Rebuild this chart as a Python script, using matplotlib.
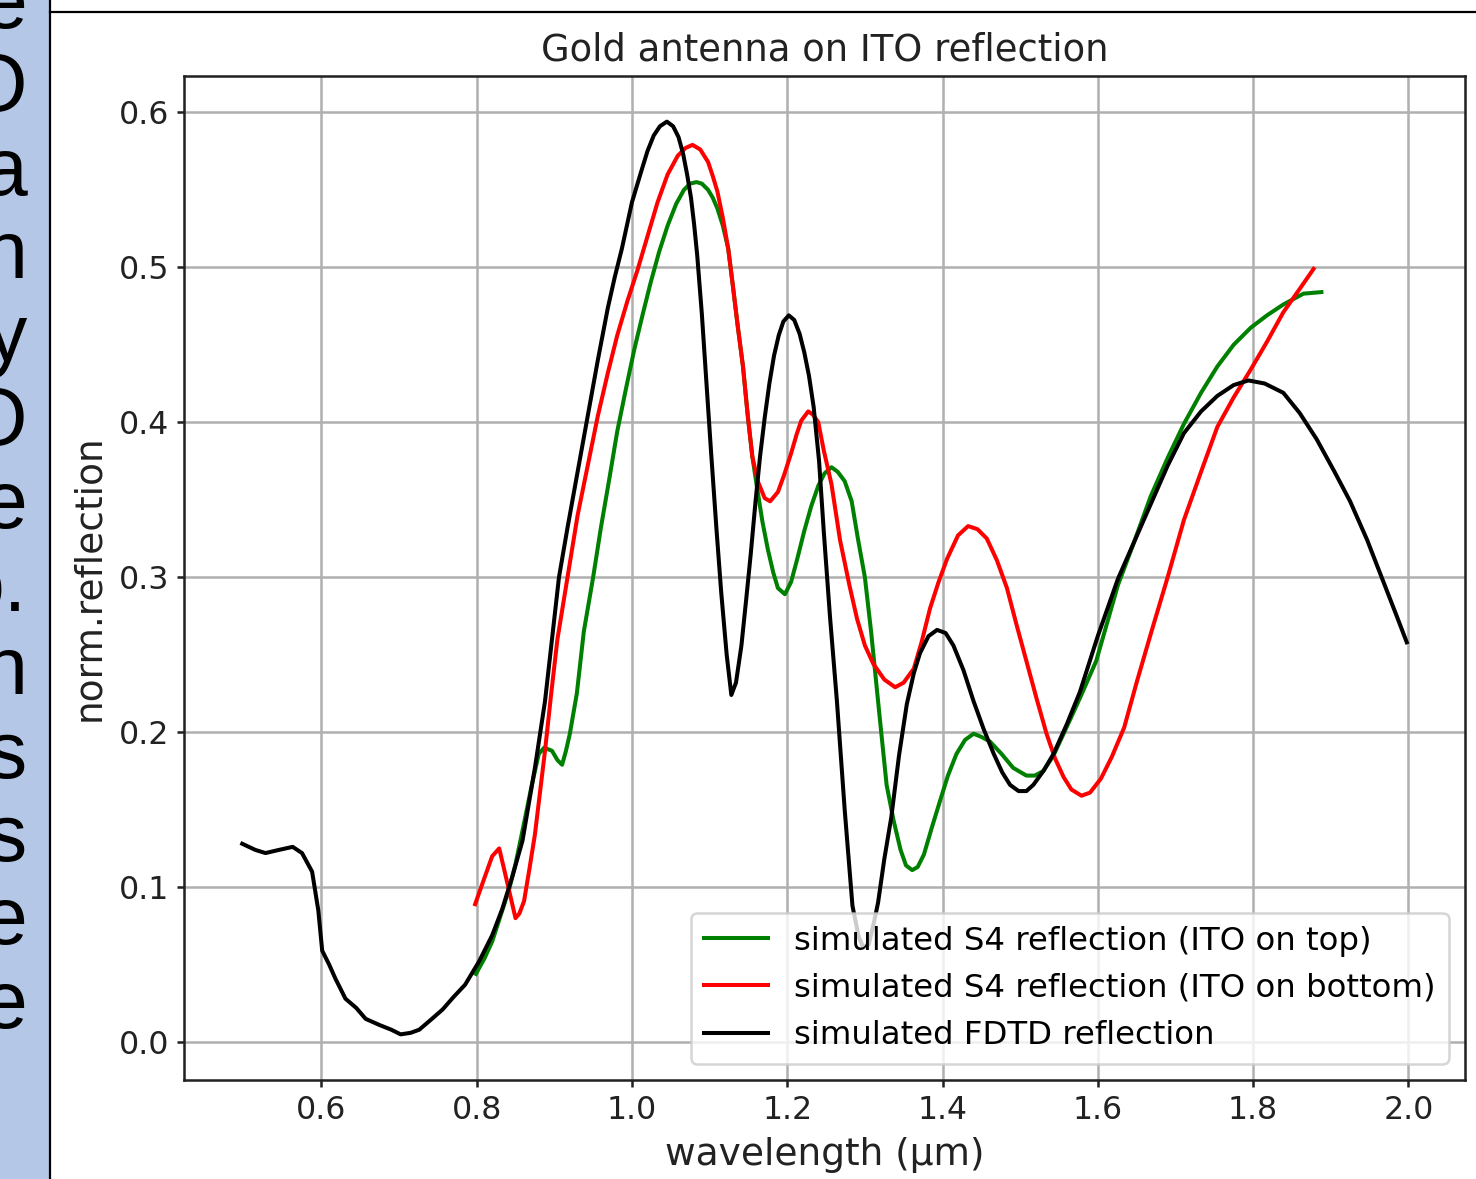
import matplotlib
matplotlib.use("Agg")
import matplotlib.pyplot as plt
from matplotlib.lines import Line2D
from matplotlib.patches import Rectangle

# FDTD reflection (black)
fdtd_wl = [0.498, 0.515, 0.528, 0.545, 0.563, 0.575, 0.588, 0.596, 0.601, 0.610,
           0.618, 0.631, 0.645, 0.657, 0.675, 0.690, 0.702, 0.715, 0.726, 0.740,
           0.756, 0.770, 0.785, 0.803, 0.820, 0.833, 0.846, 0.859, 0.875, 0.888,
           0.897, 0.906, 0.917, 0.930, 0.943, 0.956, 0.969, 0.978, 0.987, 1.000,
           1.012, 1.020, 1.028, 1.036, 1.045, 1.053, 1.060, 1.066, 1.071, 1.076,
           1.080, 1.084, 1.090, 1.096, 1.102, 1.109, 1.115, 1.122, 1.128, 1.134,
           1.141, 1.147, 1.153, 1.159, 1.165, 1.171, 1.177, 1.183, 1.189, 1.195,
           1.202, 1.209, 1.216, 1.222, 1.228, 1.234, 1.241, 1.247, 1.255, 1.264,
           1.274, 1.284, 1.292, 1.298, 1.305, 1.312, 1.317, 1.325, 1.334, 1.344,
           1.354, 1.363, 1.371, 1.382, 1.393, 1.404, 1.414, 1.427, 1.440, 1.453,
           1.466, 1.477, 1.487, 1.498, 1.508, 1.517, 1.530, 1.543, 1.560, 1.577,
           1.600, 1.626, 1.647, 1.668, 1.690, 1.711, 1.733, 1.754, 1.775, 1.794,
           1.815, 1.839, 1.860, 1.882, 1.905, 1.925, 1.947, 1.968, 1.985, 1.998]
fdtd_r = [0.128, 0.124, 0.122, 0.124, 0.126, 0.122, 0.110, 0.085, 0.059, 0.050,
          0.041, 0.028, 0.022, 0.015, 0.011, 0.008, 0.005, 0.006, 0.008, 0.014,
          0.021, 0.029, 0.037, 0.052, 0.069, 0.086, 0.107, 0.130, 0.177, 0.220,
          0.260, 0.300, 0.332, 0.368, 0.404, 0.440, 0.474, 0.494, 0.512, 0.542,
          0.562, 0.575, 0.585, 0.591, 0.594, 0.591, 0.584, 0.573, 0.560, 0.545,
          0.528, 0.508, 0.470, 0.425, 0.380, 0.330, 0.290, 0.250, 0.224, 0.232,
          0.256, 0.285, 0.315, 0.348, 0.378, 0.403, 0.425, 0.443, 0.456, 0.465,
          0.469, 0.466, 0.457, 0.445, 0.430, 0.410, 0.375, 0.330, 0.275, 0.220,
          0.150, 0.088, 0.068, 0.061, 0.063, 0.078, 0.090, 0.118, 0.145, 0.185,
          0.218, 0.238, 0.251, 0.262, 0.266, 0.264, 0.256, 0.240, 0.220, 0.202,
          0.186, 0.174, 0.166, 0.162, 0.162, 0.166, 0.175, 0.186, 0.205, 0.226,
          0.262, 0.299, 0.323, 0.347, 0.372, 0.393, 0.407, 0.417, 0.424, 0.427,
          0.425, 0.419, 0.406, 0.389, 0.368, 0.349, 0.324, 0.297, 0.275, 0.258]

# S4, ITO on top (green)
top_wl = [0.799, 0.810, 0.820, 0.831, 0.842, 0.850, 0.858, 0.871, 0.880, 0.887,
          0.897, 0.904, 0.910, 0.915, 0.920, 0.929, 0.938, 0.950, 0.960, 0.971,
          0.981, 0.992, 1.003, 1.014, 1.024, 1.035, 1.046, 1.057, 1.067, 1.075,
          1.083, 1.090, 1.098, 1.104, 1.110, 1.117, 1.124, 1.130, 1.136, 1.143,
          1.149, 1.155, 1.162, 1.168, 1.175, 1.182, 1.188, 1.197, 1.205, 1.213,
          1.222, 1.231, 1.240, 1.248, 1.257, 1.265, 1.274, 1.283, 1.291, 1.300,
          1.308, 1.318, 1.328, 1.337, 1.346, 1.353, 1.361, 1.368, 1.376, 1.386,
          1.397, 1.407, 1.418, 1.429, 1.440, 1.450, 1.461, 1.476, 1.491, 1.508,
          1.519, 1.530, 1.543, 1.556, 1.577, 1.598, 1.626, 1.647, 1.668, 1.690,
          1.711, 1.733, 1.754, 1.775, 1.797, 1.818, 1.839, 1.865, 1.888]
top_r = [0.044, 0.054, 0.065, 0.082, 0.099, 0.115, 0.134, 0.166, 0.186, 0.190,
         0.188, 0.182, 0.179, 0.188, 0.199, 0.225, 0.265, 0.300, 0.332, 0.364,
         0.394, 0.421, 0.447, 0.470, 0.490, 0.510, 0.527, 0.541, 0.550, 0.554,
         0.555, 0.554, 0.550, 0.545, 0.538, 0.527, 0.512, 0.488, 0.463, 0.436,
         0.405, 0.378, 0.355, 0.336, 0.318, 0.303, 0.293, 0.289, 0.297, 0.312,
         0.330, 0.346, 0.359, 0.367, 0.371, 0.368, 0.362, 0.349, 0.325, 0.300,
         0.265, 0.215, 0.166, 0.143, 0.124, 0.114, 0.111, 0.113, 0.121, 0.138,
         0.156, 0.172, 0.186, 0.195, 0.199, 0.197, 0.194, 0.186, 0.177, 0.172,
         0.172, 0.175, 0.185, 0.199, 0.222, 0.246, 0.295, 0.323, 0.352, 0.377,
         0.399, 0.419, 0.436, 0.450, 0.461, 0.469, 0.476, 0.483, 0.484]

# S4, ITO on bottom (red)
bot_wl = [0.798, 0.810, 0.820, 0.829, 0.837, 0.850, 0.855, 0.861, 0.868, 0.875,
          0.888, 0.896, 0.904, 0.917, 0.930, 0.943, 0.956, 0.969, 0.981, 0.994,
          1.007, 1.020, 1.033, 1.046, 1.059, 1.069, 1.078, 1.088, 1.098, 1.104,
          1.110, 1.117, 1.124, 1.130, 1.136, 1.143, 1.149, 1.155, 1.162, 1.171,
          1.178, 1.188, 1.196, 1.205, 1.212, 1.218, 1.227, 1.233, 1.240, 1.247,
          1.257, 1.268, 1.280, 1.290, 1.300, 1.311, 1.325, 1.339, 1.350, 1.363,
          1.373, 1.384, 1.395, 1.406, 1.420, 1.433, 1.445, 1.457, 1.470, 1.483,
          1.495, 1.508, 1.521, 1.534, 1.545, 1.556, 1.566, 1.579, 1.590, 1.604,
          1.618, 1.634, 1.650, 1.668, 1.690, 1.711, 1.733, 1.754, 1.775, 1.797,
          1.818, 1.839, 1.860, 1.878]
bot_r = [0.089, 0.106, 0.120, 0.125, 0.108, 0.080, 0.083, 0.091, 0.112, 0.134,
         0.188, 0.225, 0.260, 0.300, 0.340, 0.372, 0.404, 0.432, 0.456, 0.478,
         0.498, 0.520, 0.542, 0.560, 0.572, 0.577, 0.579, 0.576, 0.568, 0.559,
         0.549, 0.532, 0.512, 0.488, 0.463, 0.436, 0.405, 0.378, 0.362, 0.351,
         0.349, 0.355, 0.366, 0.380, 0.392, 0.401, 0.407, 0.405, 0.400, 0.382,
         0.360, 0.324, 0.295, 0.273, 0.256, 0.244, 0.234, 0.229, 0.232, 0.241,
         0.258, 0.280, 0.297, 0.312, 0.327, 0.333, 0.331, 0.325, 0.311, 0.293,
         0.270, 0.246, 0.222, 0.199, 0.183, 0.171, 0.163, 0.159, 0.161, 0.170,
         0.184, 0.203, 0.232, 0.263, 0.300, 0.337, 0.368, 0.397, 0.416, 0.434,
         0.452, 0.471, 0.486, 0.499]

labels = ["simulated S4 reflection (ITO on top)",
          "simulated S4 reflection (ITO on bottom)",
          "simulated FDTD reflection"]

# cut-off letters of the slide text on the left
side_letters = ["e", "O", "a", "n", "y", "O", "e", "o.", "n", "s", "s", "e", "e"]

W, H = 1476, 1179
s = 2.28  # scale of the original figure

fig = plt.figure(figsize=(W / 100, H / 100), dpi=100)

# slide background bits
fig.patches.append(Rectangle((0, 0), 50 / W, 1, transform=fig.transFigure,
                             facecolor="#b4c7e7", edgecolor="none", zorder=0))
fig.add_artist(Line2D([50 / W, 50 / W], [0, 1], color="black", lw=1.6,
                      transform=fig.transFigure))
fig.add_artist(Line2D([50 / W, 1], [1 - 12 / H, 1 - 12 / H], color="black", lw=1.6,
                      transform=fig.transFigure))
for i, ch in enumerate(side_letters):
    base = 28 + 83.3 * i
    fig.text(27 / W, 1 - base / H, ch, ha="right", va="baseline",
             fontsize=58, family="Liberation Sans", color="black")

ax = fig.add_axes([184 / W, 1 - 1080 / H, (1465 - 184) / W, (1080 - 76) / H])
ax.plot(top_wl, top_r, color="g", lw=2.9, label=labels[0])
ax.plot(bot_wl, bot_r, color="r", lw=2.9, label=labels[1])
ax.plot(fdtd_wl, fdtd_r, color="k", lw=2.9, label=labels[2])

ax.grid(True, color="#b0b0b0", lw=0.8 * s)
ax.set_xticks([0.6, 0.8, 1.0, 1.2, 1.4, 1.6, 1.8, 2.0])
ax.set_yticks([0.0, 0.1, 0.2, 0.3, 0.4, 0.5, 0.6])
ax.tick_params(labelsize=10 * s, length=5, width=0.8 * s, pad=5.8,
               colors="#222222", labelcolor="#222222")
for sp in ax.spines.values():
    sp.set_linewidth(0.8 * s)
    sp.set_color("#222222")

ax.set_title("Gold antenna on ITO reflection", fontsize=26.6, pad=11, color="#222222")
ax.set_xlabel("wavelength (µm)", fontsize=27, labelpad=8, color="#222222")
ax.set_ylabel("norm.reflection", fontsize=27, labelpad=8, color="#222222")

leg = ax.legend(loc="lower right", fontsize=23.3, framealpha=0.8)
leg.get_frame().set_linewidth(0.8 * s)

fig.savefig("out.png", dpi=100)
